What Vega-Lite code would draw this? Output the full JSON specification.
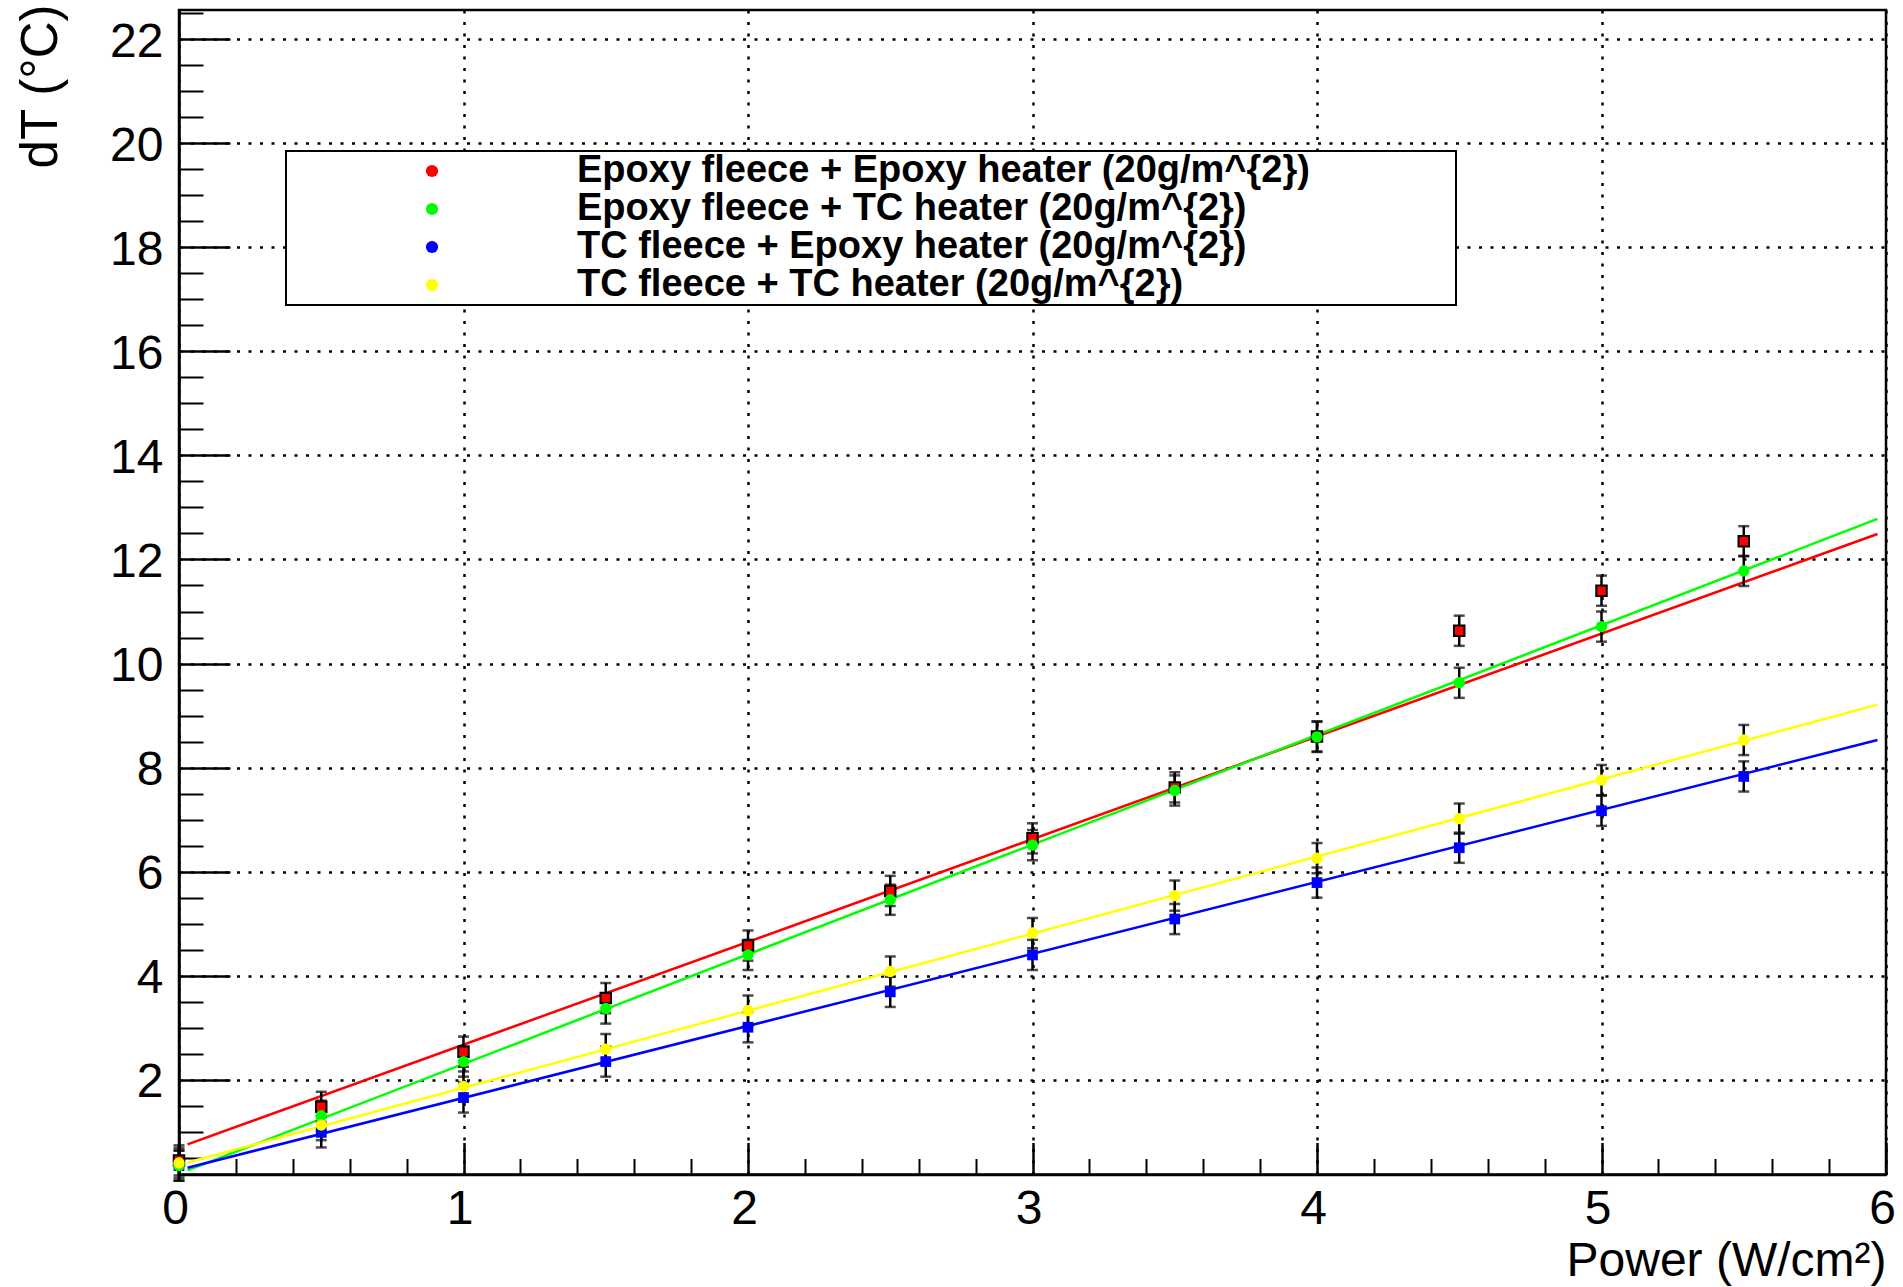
{
  "$schema": "https://vega.github.io/schema/vega-lite/v6.json",
  "width": 1707,
  "height": 1164.5,
  "autosize": {"type": "none"},
  "padding": {"left": 179, "top": 10, "right": 17, "bottom": 112.5},
  "background": "white",
  "config": {
    "view": {"stroke": "black", "strokeWidth": 2.5},
    "font": "Liberation Sans",
    "legend": {"strokeWidth": 2}
  },
  "datasets": {
    "pts": [
      {"series": "Epoxy fleece + Epoxy heater (20g/m^{2})", "power": 0, "dT": 0.45, "lo": 0.16, "hi": 0.74},
      {"series": "Epoxy fleece + Epoxy heater (20g/m^{2})", "power": 0.5, "dT": 1.48, "lo": 1.19, "hi": 1.77},
      {"series": "Epoxy fleece + Epoxy heater (20g/m^{2})", "power": 1, "dT": 2.54, "lo": 2.25, "hi": 2.83},
      {"series": "Epoxy fleece + Epoxy heater (20g/m^{2})", "power": 1.5, "dT": 3.57, "lo": 3.28, "hi": 3.86},
      {"series": "Epoxy fleece + Epoxy heater (20g/m^{2})", "power": 2, "dT": 4.58, "lo": 4.29, "hi": 4.87},
      {"series": "Epoxy fleece + Epoxy heater (20g/m^{2})", "power": 2.5, "dT": 5.63, "lo": 5.34, "hi": 5.92},
      {"series": "Epoxy fleece + Epoxy heater (20g/m^{2})", "power": 3, "dT": 6.64, "lo": 6.35, "hi": 6.93},
      {"series": "Epoxy fleece + Epoxy heater (20g/m^{2})", "power": 3.5, "dT": 7.62, "lo": 7.33, "hi": 7.91},
      {"series": "Epoxy fleece + Epoxy heater (20g/m^{2})", "power": 4, "dT": 8.60, "lo": 8.31, "hi": 8.89},
      {"series": "Epoxy fleece + Epoxy heater (20g/m^{2})", "power": 4.5, "dT": 10.63, "lo": 10.34, "hi": 10.92},
      {"series": "Epoxy fleece + Epoxy heater (20g/m^{2})", "power": 5, "dT": 11.40, "lo": 11.11, "hi": 11.69},
      {"series": "Epoxy fleece + Epoxy heater (20g/m^{2})", "power": 5.5, "dT": 12.35, "lo": 12.06, "hi": 12.64},
      {"series": "Epoxy fleece + TC heater (20g/m^{2})", "power": 0, "dT": 0.35, "lo": 0.06, "hi": 0.64},
      {"series": "Epoxy fleece + TC heater (20g/m^{2})", "power": 0.5, "dT": 1.31, "lo": 1.02, "hi": 1.60},
      {"series": "Epoxy fleece + TC heater (20g/m^{2})", "power": 1, "dT": 2.35, "lo": 2.06, "hi": 2.64},
      {"series": "Epoxy fleece + TC heater (20g/m^{2})", "power": 1.5, "dT": 3.37, "lo": 3.08, "hi": 3.66},
      {"series": "Epoxy fleece + TC heater (20g/m^{2})", "power": 2, "dT": 4.40, "lo": 4.11, "hi": 4.69},
      {"series": "Epoxy fleece + TC heater (20g/m^{2})", "power": 2.5, "dT": 5.46, "lo": 5.17, "hi": 5.75},
      {"series": "Epoxy fleece + TC heater (20g/m^{2})", "power": 3, "dT": 6.51, "lo": 6.22, "hi": 6.80},
      {"series": "Epoxy fleece + TC heater (20g/m^{2})", "power": 3.5, "dT": 7.56, "lo": 7.27, "hi": 7.85},
      {"series": "Epoxy fleece + TC heater (20g/m^{2})", "power": 4, "dT": 8.59, "lo": 8.30, "hi": 8.88},
      {"series": "Epoxy fleece + TC heater (20g/m^{2})", "power": 4.5, "dT": 9.63, "lo": 9.34, "hi": 9.92},
      {"series": "Epoxy fleece + TC heater (20g/m^{2})", "power": 5, "dT": 10.71, "lo": 10.42, "hi": 11.00},
      {"series": "Epoxy fleece + TC heater (20g/m^{2})", "power": 5.5, "dT": 11.78, "lo": 11.49, "hi": 12.07},
      {"series": "TC fleece + Epoxy heater (20g/m^{2})", "power": 0, "dT": 0.35, "lo": 0.06, "hi": 0.64},
      {"series": "TC fleece + Epoxy heater (20g/m^{2})", "power": 0.5, "dT": 0.99, "lo": 0.70, "hi": 1.28},
      {"series": "TC fleece + Epoxy heater (20g/m^{2})", "power": 1, "dT": 1.66, "lo": 1.37, "hi": 1.95},
      {"series": "TC fleece + Epoxy heater (20g/m^{2})", "power": 1.5, "dT": 2.35, "lo": 2.06, "hi": 2.64},
      {"series": "TC fleece + Epoxy heater (20g/m^{2})", "power": 2, "dT": 3.01, "lo": 2.72, "hi": 3.30},
      {"series": "TC fleece + Epoxy heater (20g/m^{2})", "power": 2.5, "dT": 3.69, "lo": 3.40, "hi": 3.98},
      {"series": "TC fleece + Epoxy heater (20g/m^{2})", "power": 3, "dT": 4.40, "lo": 4.11, "hi": 4.69},
      {"series": "TC fleece + Epoxy heater (20g/m^{2})", "power": 3.5, "dT": 5.09, "lo": 4.80, "hi": 5.38},
      {"series": "TC fleece + Epoxy heater (20g/m^{2})", "power": 4, "dT": 5.79, "lo": 5.50, "hi": 6.08},
      {"series": "TC fleece + Epoxy heater (20g/m^{2})", "power": 4.5, "dT": 6.46, "lo": 6.17, "hi": 6.75},
      {"series": "TC fleece + Epoxy heater (20g/m^{2})", "power": 5, "dT": 7.17, "lo": 6.88, "hi": 7.46},
      {"series": "TC fleece + Epoxy heater (20g/m^{2})", "power": 5.5, "dT": 7.83, "lo": 7.54, "hi": 8.12},
      {"series": "TC fleece + TC heater (20g/m^{2})", "power": 0, "dT": 0.40, "lo": 0.11, "hi": 0.69},
      {"series": "TC fleece + TC heater (20g/m^{2})", "power": 0.5, "dT": 1.13, "lo": 0.84, "hi": 1.42},
      {"series": "TC fleece + TC heater (20g/m^{2})", "power": 1, "dT": 1.87, "lo": 1.58, "hi": 2.16},
      {"series": "TC fleece + TC heater (20g/m^{2})", "power": 1.5, "dT": 2.59, "lo": 2.30, "hi": 2.88},
      {"series": "TC fleece + TC heater (20g/m^{2})", "power": 2, "dT": 3.33, "lo": 3.04, "hi": 3.62},
      {"series": "TC fleece + TC heater (20g/m^{2})", "power": 2.5, "dT": 4.08, "lo": 3.79, "hi": 4.37},
      {"series": "TC fleece + TC heater (20g/m^{2})", "power": 3, "dT": 4.82, "lo": 4.53, "hi": 5.11},
      {"series": "TC fleece + TC heater (20g/m^{2})", "power": 3.5, "dT": 5.54, "lo": 5.25, "hi": 5.83},
      {"series": "TC fleece + TC heater (20g/m^{2})", "power": 4, "dT": 6.26, "lo": 5.97, "hi": 6.55},
      {"series": "TC fleece + TC heater (20g/m^{2})", "power": 4.5, "dT": 7.02, "lo": 6.73, "hi": 7.31},
      {"series": "TC fleece + TC heater (20g/m^{2})", "power": 5, "dT": 7.76, "lo": 7.47, "hi": 8.05},
      {"series": "TC fleece + TC heater (20g/m^{2})", "power": 5.5, "dT": 8.53, "lo": 8.24, "hi": 8.82}
    ],
    "fit": [
      {"series": "Epoxy fleece + Epoxy heater (20g/m^{2})", "power": 0.03, "dT": 0.76},
      {"series": "Epoxy fleece + Epoxy heater (20g/m^{2})", "power": 5.97, "dT": 12.49},
      {"series": "Epoxy fleece + TC heater (20g/m^{2})", "power": 0.03, "dT": 0.26},
      {"series": "Epoxy fleece + TC heater (20g/m^{2})", "power": 5.97, "dT": 12.78},
      {"series": "TC fleece + Epoxy heater (20g/m^{2})", "power": 0.03, "dT": 0.31},
      {"series": "TC fleece + Epoxy heater (20g/m^{2})", "power": 5.97, "dT": 8.53},
      {"series": "TC fleece + TC heater (20g/m^{2})", "power": 0.03, "dT": 0.41},
      {"series": "TC fleece + TC heater (20g/m^{2})", "power": 5.97, "dT": 9.21}
    ]
  },
  "resolve": {"axis": {"x": "independent", "y": "independent"}},
  "layer": [
    {
      "data": {"name": "fit"},
      "transform": [{"filter": {"field": "series", "equal": "Epoxy fleece + Epoxy heater (20g/m^{2})"}}],
      "mark": {"type": "line", "strokeWidth": 2.5, "clip": true, "color": "#ff0000"},
      "encoding": {
        "x": {
          "field": "power", "type": "quantitative",
          "scale": {"domain": [0, 6], "nice": false, "zero": false},
          "axis": {
            "orient": "bottom",
            "values": [0.2, 0.4, 0.6, 0.8, 1.2, 1.4, 1.6, 1.8, 2.2, 2.4, 2.6, 2.8, 3.2, 3.4, 3.6, 3.8, 4.2, 4.4, 4.6, 4.8, 5.2, 5.4, 5.6, 5.8],
            "tickSize": -16, "tickWidth": 2, "tickColor": "black",
            "labels": false, "grid": false, "domain": false, "title": null
          }
        },
        "y": {
          "field": "dT", "type": "quantitative",
          "scale": {"domain": [0.18, 22.56], "nice": false, "zero": false},
          "axis": {
            "orient": "left",
            "values": [0.5, 1, 1.5, 2.5, 3, 3.5, 4.5, 5, 5.5, 6.5, 7, 7.5, 8.5, 9, 9.5, 10.5, 11, 11.5, 12.5, 13, 13.5, 14.5, 15, 15.5, 16.5, 17, 17.5, 18.5, 19, 19.5, 20.5, 21, 21.5, 22.5],
            "tickSize": -24, "tickWidth": 2, "tickColor": "black",
            "labels": false, "grid": false, "domain": false, "title": null
          }
        }
      }
    },
    {
      "data": {"name": "fit"},
      "transform": [{"filter": {"field": "series", "equal": "Epoxy fleece + TC heater (20g/m^{2})"}}],
      "mark": {"type": "line", "strokeWidth": 2.5, "clip": true, "color": "#00ff00"},
      "encoding": {
        "x": {"field": "power", "type": "quantitative", "scale": {"domain": [0, 6], "nice": false, "zero": false}, "axis": null},
        "y": {"field": "dT", "type": "quantitative", "scale": {"domain": [0.18, 22.56], "nice": false, "zero": false}, "axis": null}
      }
    },
    {
      "data": {"name": "fit"},
      "transform": [{"filter": {"field": "series", "equal": "TC fleece + Epoxy heater (20g/m^{2})"}}],
      "mark": {"type": "line", "strokeWidth": 2.5, "clip": true, "color": "#0000ff"},
      "encoding": {
        "x": {"field": "power", "type": "quantitative", "scale": {"domain": [0, 6], "nice": false, "zero": false}, "axis": null},
        "y": {"field": "dT", "type": "quantitative", "scale": {"domain": [0.18, 22.56], "nice": false, "zero": false}, "axis": null}
      }
    },
    {
      "data": {"name": "fit"},
      "transform": [{"filter": {"field": "series", "equal": "TC fleece + TC heater (20g/m^{2})"}}],
      "mark": {"type": "line", "strokeWidth": 2.5, "clip": true, "color": "#ffff00"},
      "encoding": {
        "x": {"field": "power", "type": "quantitative", "scale": {"domain": [0, 6], "nice": false, "zero": false}, "axis": null},
        "y": {"field": "dT", "type": "quantitative", "scale": {"domain": [0.18, 22.56], "nice": false, "zero": false}, "axis": null}
      }
    },
    {
      "data": {"name": "pts"},
      "mark": {
        "type": "errorbar",
        "ticks": {"color": "black", "size": 11, "thickness": 2.5},
        "rule": {"color": "black", "strokeWidth": 2.5}
      },
      "encoding": {
        "x": {"field": "power", "type": "quantitative", "scale": {"domain": [0, 6], "nice": false, "zero": false}, "axis": null},
        "y": {"field": "lo", "type": "quantitative", "scale": {"domain": [0.18, 22.56], "nice": false, "zero": false}, "axis": null},
        "y2": {"field": "hi"}
      }
    },
    {
      "data": {"name": "pts"},
      "transform": [{"filter": {"field": "series", "equal": "TC fleece + Epoxy heater (20g/m^{2})"}}],
      "mark": {"type": "square", "filled": true, "size": 115, "opacity": 1, "color": "#0000ff"},
      "encoding": {
        "x": {"field": "power", "type": "quantitative", "scale": {"domain": [0, 6], "nice": false, "zero": false}, "axis": null},
        "y": {"field": "dT", "type": "quantitative", "scale": {"domain": [0.18, 22.56], "nice": false, "zero": false}, "axis": null}
      }
    },
    {
      "data": {"name": "pts"},
      "transform": [{"filter": {"field": "series", "equal": "Epoxy fleece + Epoxy heater (20g/m^{2})"}}],
      "mark": {"type": "square", "filled": true, "size": 110, "opacity": 1, "color": "#ff0000", "stroke": "black", "strokeWidth": 2},
      "encoding": {
        "x": {"field": "power", "type": "quantitative", "scale": {"domain": [0, 6], "nice": false, "zero": false}, "axis": null},
        "y": {"field": "dT", "type": "quantitative", "scale": {"domain": [0.18, 22.56], "nice": false, "zero": false}, "axis": null}
      }
    },
    {
      "data": {"name": "pts"},
      "transform": [{"filter": {"field": "series", "oneOf": ["Epoxy fleece + TC heater (20g/m^{2})", "TC fleece + TC heater (20g/m^{2})"]}}],
      "mark": {"type": "circle", "size": 130, "opacity": 1},
      "encoding": {
        "x": {
          "field": "power", "type": "quantitative",
          "scale": {"domain": [0, 6], "nice": false, "zero": false},
          "axis": {
            "orient": "bottom",
            "values": [0, 1, 2, 3, 4, 5, 6], "format": "d",
            "tickSize": -32, "tickWidth": 2.5, "tickColor": "black",
            "domain": true, "domainColor": "black", "domainWidth": 2.5,
            "grid": true, "gridColor": "black", "gridDash": [3, 8.5], "gridWidth": 2.5, "gridOpacity": 1,
            "labelFont": "Liberation Sans", "labelFontSize": 48, "labelColor": "black",
            "labelBaseline": "top", "labelPadding": 43, "labelFlush": false, "labelOverlap": false, "labelOffset": -4,
            "title": "Power (W/cm²)", "titleFont": "Liberation Sans", "titleFontSize": 48, "titleFontWeight": "normal", "titleColor": "black",
            "titleAlign": "right", "titleBaseline": "alphabetic", "titleX": 1707, "titleY": 100.5
          }
        },
        "y": {
          "field": "dT", "type": "quantitative",
          "scale": {"domain": [0.18, 22.56], "nice": false, "zero": false},
          "axis": {
            "orient": "left",
            "values": [2, 4, 6, 8, 10, 12, 14, 16, 18, 20, 22], "format": "d",
            "tickSize": -51, "tickWidth": 2.5, "tickColor": "black",
            "domain": true, "domainColor": "black", "domainWidth": 2.5,
            "grid": true, "gridColor": "black", "gridDash": [3, 8.5], "gridWidth": 2.5, "gridOpacity": 1,
            "labelFont": "Liberation Sans", "labelFontSize": 48, "labelColor": "black",
            "labelPadding": 67, "labelOverlap": false, "labelFlush": false, "labelOffset": 3,
            "title": "dT (°C)", "titleFont": "Liberation Sans", "titleFontSize": 51, "titleFontWeight": "normal", "titleColor": "black",
            "titleAngle": 270, "titleAlign": "right", "titleBaseline": "alphabetic", "titleX": -123, "titleY": -6
          }
        },
        "color": {
          "field": "series", "type": "nominal",
          "scale": {
            "domain": ["Epoxy fleece + Epoxy heater (20g/m^{2})", "Epoxy fleece + TC heater (20g/m^{2})", "TC fleece + Epoxy heater (20g/m^{2})", "TC fleece + TC heater (20g/m^{2})"],
            "range": ["#ff0000", "#00ff00", "#0000ff", "#ffff00"]
          },
          "legend": {
            "orient": "none", "legendX": 107, "legendY": 141, "direction": "vertical",
            "title": " ", "titleOrient": "right", "titlePadding": 145,
            "padding": 1, "strokeColor": "black", "fillColor": "white",
            "symbolType": "circle", "symbolSize": 150, "symbolStrokeWidth": 0, "symbolOffset": 126,
            "labelOffset": 126, "labelFont": "Liberation Sans", "labelFontWeight": "bold", "labelFontSize": 38,
            "labelColor": "black", "labelLimit": 0, "rowPadding": 0
          }
        }
      }
    }
  ]
}
